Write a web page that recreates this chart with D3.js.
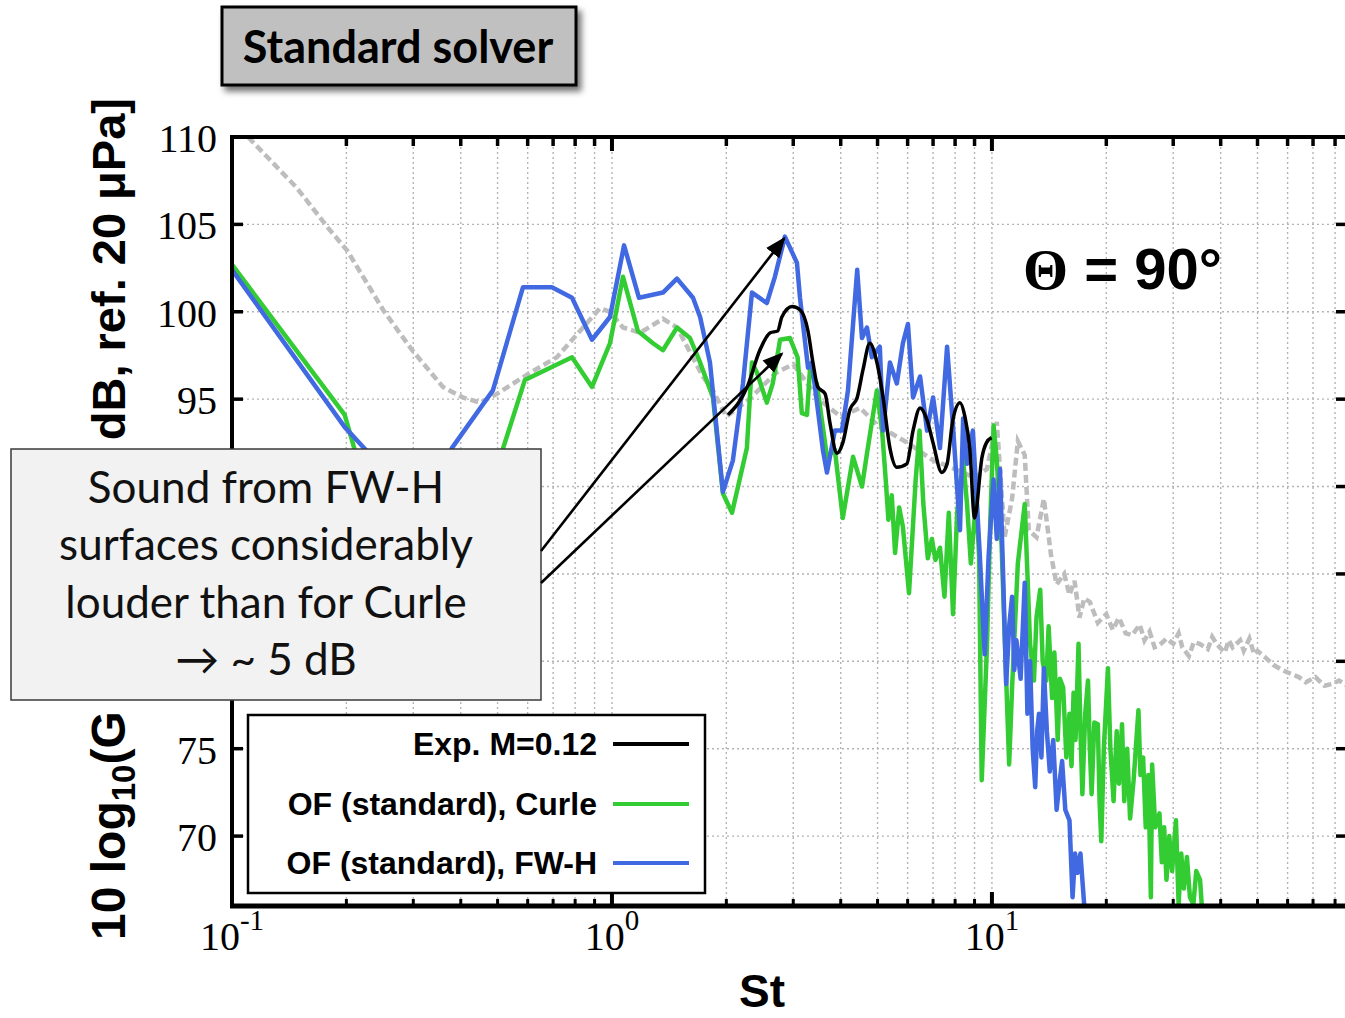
<!DOCTYPE html>
<html>
<head>
<meta charset="utf-8">
<script src="https://cdn.jsdelivr.net/npm/d3@7"></script>
<style>
body { margin: 0; background: #fff; }
</style>
</head>
<body>
<div id="chart"></div>
<script>
const width = 1345;
const height = 1018;

// Exp. M=0.12
const stExp = [2.02, 2.27, 2.45, 2.61, 2.73, 2.80, 2.98, 3.13, 3.28, 3.38, 3.48, 3.64, 3.75, 3.91, 4.05, 4.23, 4.42, 4.58, 4.77, 4.98, 5.17, 5.39, 5.62, 5.97, 6.20, 6.47, 6.75, 7.00, 7.38, 7.62, 7.89, 8.24, 8.49, 8.75, 9.00, 9.42, 9.67, 9.98];
const dbExp = [94.1, 95.7, 97.8, 98.8, 98.9, 99.7, 100.3, 100.1, 98.9, 97.1, 95.7, 95.3, 93.6, 91.9, 92.5, 94.4, 95.1, 96.7, 98.2, 97.1, 95.1, 92.2, 91.1, 91.3, 93.2, 94.5, 93.8, 92.5, 90.8, 91.3, 93.8, 94.8, 94.0, 92.1, 88.2, 91.7, 92.5, 92.8];

// OF (standard), Curle
const stCurle = [0.1, 0.198, 0.211, 0.26, 0.33, 0.42, 0.517, 0.590, 0.785, 0.886, 0.988, 1.069, 1.170, 1.282, 1.362, 1.483, 1.604, 1.706, 1.844, 1.959, 2.07, 2.265, 2.336, 2.41, 2.556, 2.65, 2.77, 2.94, 3.08, 3.16, 3.26, 3.32, 3.46, 3.68, 3.86, 4.05, 4.31, 4.55, 4.69, 4.98, 5.14, 5.25, 5.34, 5.45, 5.56, 5.7, 5.83, 6.05, 6.3, 6.45, 6.6, 6.78, 6.95, 7.1, 7.3, 7.5, 7.7, 7.9, 8.1, 8.4, 8.6, 8.8, 9.1, 9.25, 9.4, 9.7, 9.9, 10.1, 10.3, 10.6, 11.1, 11.3, 11.7, 12.2, 12.4, 12.6, 12.9, 13.1, 13.4, 13.6, 13.9, 14.1, 14.4, 14.6, 14.9, 15.1, 15.4, 15.7, 16.0, 16.2, 16.4, 16.6, 16.9, 17.1, 17.3, 17.6, 17.9, 18.1, 18.3, 18.6, 19.0, 19.2, 19.4, 19.7, 20.2, 20.5, 20.9, 21.3, 21.6, 22.0, 22.3, 22.7, 23.1, 23.6, 24.0, 24.3, 24.6, 25.0, 25.4, 25.8, 26.2, 26.4, 26.9, 27.6, 28.0, 28.4, 28.8, 29.3, 29.8, 30.5, 31.0, 31.5, 32.0, 32.6, 33.2, 33.9, 34.5, 35.3, 36.2];
const dbCurle = [102.7, 94.1, 92.0, 86.0, 83.0, 84.5, 92.2, 96.1, 97.4, 95.7, 98.2, 102.0, 98.9, 98.2, 97.8, 99.1, 98.5, 97.1, 95.1, 89.6, 88.5, 92.2, 97.1, 96.5, 94.8, 95.9, 98.4, 98.5, 97.4, 94.2, 94.1, 96.7, 95.9, 91.7, 92.1, 88.2, 91.7, 90.0, 91.9, 95.5, 93.2, 90.5, 88.1, 89.5, 86.2, 88.8, 87.7, 83.9, 90.4, 93.2, 89.0, 85.9, 87.0, 85.8, 86.5, 83.7, 88.5, 82.7, 88.5, 91.5, 89.0, 85.6, 89.4, 86.0, 73.2, 80.8, 88.0, 93.5, 91.5, 86.7, 74.1, 78.5, 85.6, 89.0, 85.0, 81.0, 78.9, 82.5, 84.1, 80.0, 78.9, 82.0, 77.9, 80.5, 75.5, 79.0, 78.5, 74.5, 77.0, 74.0, 78.2, 75.5, 81.0, 76.0, 72.4, 77.0, 78.9, 75.0, 72.4, 76.5, 76.4, 72.0, 69.7, 75.0, 79.6, 75.0, 72.0, 76.0, 73.0, 76.4, 72.0, 75.0, 71.0, 73.2, 75.5, 77.2, 73.5, 74.5, 70.5, 73.5, 66.5, 74.1, 70.5, 71.3, 68.5, 70.5, 67.5, 70.0, 68.0, 70.9, 66.1, 69.0, 67.0, 68.8, 66.5, 66.1, 68.0, 67.5, 64.0];

// OF (standard), FW-H
const stFwh = [0.1, 0.198, 0.227, 0.27, 0.32, 0.379, 0.486, 0.583, 0.695, 0.785, 0.886, 0.988, 1.076, 1.178, 1.362, 1.483, 1.634, 1.706, 1.811, 1.959, 2.081, 2.212, 2.336, 2.556, 2.684, 2.852, 3.068, 3.125, 3.281, 3.359, 3.59, 3.68, 3.86, 4.03, 4.18, 4.42, 4.55, 4.69, 4.83, 5.07, 5.17, 5.39, 5.62, 5.83, 6.01, 6.20, 6.47, 6.75, 7.00, 7.30, 7.62, 7.89, 8.24, 8.4, 8.6, 8.91, 9.29, 9.57, 9.8, 10.1, 10.3, 10.5, 10.7, 10.9, 11.1, 11.3, 11.45, 11.6, 11.9, 12.2, 12.4, 12.6, 12.8, 13.0, 13.15, 13.3, 13.5, 13.7, 13.95, 14.2, 14.5, 14.8, 15.05, 15.3, 15.6, 16.0, 16.3, 16.55, 16.8, 17.1, 17.5, 18.3];
const dbFwh = [102.4, 93.4, 92.0, 89.0, 88.5, 92.2, 95.5, 101.4, 101.4, 100.8, 98.4, 99.7, 103.8, 100.8, 101.1, 101.9, 100.8, 99.7, 97.1, 89.7, 91.5, 95.9, 101.1, 100.5, 102.0, 104.3, 102.8, 100.8, 96.8, 97.1, 92.1, 90.8, 93.2, 93.2, 95.5, 102.4, 98.5, 99.1, 97.4, 98.0, 93.2, 97.1, 95.9, 98.2, 99.3, 95.1, 96.3, 93.2, 95.1, 92.2, 98.0, 93.6, 87.5, 93.9, 91.3, 93.2, 86.1, 80.4, 86.0, 90.4, 87.0, 91.0, 85.0, 78.7, 82.0, 83.7, 79.5, 81.2, 79.0, 84.5, 77.0, 80.0, 75.0, 72.8, 76.0, 77.0, 74.5, 79.6, 76.0, 73.7, 75.5, 71.5, 73.0, 74.3, 71.5, 70.9, 66.5, 69.0, 67.9, 69.0, 66.0, 64.5];

// unlabeled grey dashed reference
const stGrey = [0.1, 0.1136, 0.148, 0.179, 0.201, 0.250, 0.298, 0.359, 0.405, 0.45, 0.498, 0.608, 0.716, 0.824, 0.929, 0.988, 1.069, 1.186, 1.362, 1.483, 1.734, 1.844, 2.0, 2.3, 2.7, 3.0, 3.5, 4.0, 4.5, 5.0, 6.0, 7.0, 8.0, 9.0, 9.7, 10.3, 10.8, 11.3, 11.7, 12.2, 12.5, 13.1, 13.7, 14.3, 14.8, 15.5, 16.0, 16.5, 17.0, 17.5, 18.1, 19.0, 20.0, 20.8, 21.6, 22.5, 23.4, 24.5, 25.2, 26.0, 26.8, 27.5, 28.8, 30.0, 31.0, 31.7, 33.0, 34.0, 35.2, 37.0, 38.0, 39.0, 41.0, 42.0, 43.0, 45.0, 46.0, 47.6, 49.0, 50.0, 52.6, 55.0, 58.1, 61.0, 64.2, 67.0, 71.0, 75.0, 78.5, 82.0, 86.0];
const dbGrey = [111.0, 109.7, 107.1, 104.8, 103.5, 100.1, 97.8, 95.7, 95.1, 94.8, 95.3, 96.5, 97.4, 98.9, 100.2, 100.0, 99.1, 98.8, 99.6, 99.1, 96.3, 95.5, 94.0, 95.0, 96.5, 97.0, 95.0, 94.0, 94.5, 93.5, 92.5, 91.5, 91.0, 90.5, 91.0, 93.7, 87.1, 89.3, 92.6, 91.8, 87.5, 87.1, 89.3, 86.1, 84.4, 85.0, 83.8, 84.6, 82.5, 83.6, 83.4, 82.2, 82.7, 81.8, 82.5, 81.6, 81.5, 82.1, 81.2, 81.7, 80.8, 80.9, 81.3, 81.0, 81.6, 80.8, 80.3, 81.1, 81.0, 80.7, 81.4, 81.0, 80.5, 81.2, 80.8, 81.2, 80.6, 81.3, 80.4, 80.6, 80.2, 79.8, 79.5, 79.3, 79.1, 78.8, 79.1, 78.6, 78.7, 78.9, 78.6];

const yTicks = [70, 75, 80, 85, 90, 95, 100, 105, 110];
const xDecades = [0.1, 1, 10];
const xExponents = ["-1", "0", "1"];
const legendLabels = ["Exp. M=0.12", "OF (standard), Curle", "OF (standard), FW-H"];
const legendColors = ["#000000", "#33cc33", "#4169e1"];
const noteLines = ["Sound from FW-H", "surfaces considerably", "louder than for Curle", "\u2192 ~ 5 dB"];

const svg = d3.select("#chart").append("svg")
    .attr("width", width)
    .attr("height", height);

const x = d3.scaleLog().domain([0.1, 86]).range([232, 1347]);
const y = d3.scaleLinear().domain([66, 110]).range([906, 137]);

// note box geometry (it hides part of the y axis, as in the original)
const note = { x: 11, y: 449, w: 530, h: 251 };

const defs = svg.append("defs");
defs.append("clipPath").attr("id", "plot")
    .append("rect")
    .attr("x", x.range()[0]).attr("y", y.range()[1])
    .attr("width", x.range()[1] - x.range()[0])
    .attr("height", y.range()[0] - y.range()[1]);
const shadow = defs.append("filter").attr("id", "shadow")
    .attr("x", "-10%").attr("y", "-20%").attr("width", "130%").attr("height", "160%");
shadow.append("feDropShadow")
    .attr("dx", 4).attr("dy", 5).attr("stdDeviation", 3)
    .attr("flood-color", "#000").attr("flood-opacity", 0.55);

const xTicks = x.ticks();
const isDecade = v => Math.abs(Math.log10(v) - Math.round(Math.log10(v))) < 1e-6;

// grid
const grid = svg.append("g")
    .attr("stroke", "#b4b4b4")
    .attr("stroke-width", 1.4)
    .attr("stroke-dasharray", "2,3");
grid.selectAll(".vg")
    .data(xTicks.filter(v => v > 0.1))
    .enter().append("line")
    .attr("x1", d => x(d)).attr("x2", d => x(d))
    .attr("y1", y.range()[1]).attr("y2", y.range()[0]);
grid.selectAll(".hg")
    .data(yTicks.filter(v => v < 110))
    .enter().append("line")
    .attr("x1", x.range()[0]).attr("x2", x.range()[1])
    .attr("y1", d => y(d)).attr("y2", d => y(d));

// series
const line = d3.line().x(d => x(d[0])).y(d => y(d[1]));
const smooth = d3.line().x(d => x(d[0])).y(d => y(d[1])).curve(d3.curveMonotoneX);
const plot = svg.append("g").attr("clip-path", "url(#plot)");

plot.append("path")
    .datum(d3.zip(stGrey, dbGrey))
    .attr("d", line)
    .style("fill", "none")
    .style("stroke", "#bdbdbd")
    .style("stroke-width", 4.5)
    .style("stroke-dasharray", "8,4");

plot.append("path")
    .datum(d3.zip(stCurle, dbCurle))
    .attr("d", line)
    .style("fill", "none")
    .style("stroke", legendColors[1])
    .style("stroke-width", 4.5)
    .style("stroke-linejoin", "round");

plot.append("path")
    .datum(d3.zip(stFwh, dbFwh))
    .attr("d", line)
    .style("fill", "none")
    .style("stroke", legendColors[2])
    .style("stroke-width", 4.5)
    .style("stroke-linejoin", "round");

plot.append("path")
    .datum(d3.zip(stExp, dbExp))
    .attr("d", smooth)
    .style("fill", "none")
    .style("stroke", legendColors[0])
    .style("stroke-width", 3.5)
    .style("stroke-linejoin", "round");

// frame and ticks
const frame = svg.append("g").attr("stroke", "#000");
frame.append("line").attr("x1", 232).attr("x2", 1347).attr("y1", 137).attr("y2", 137).attr("stroke-width", 4);
frame.append("line").attr("x1", 230).attr("x2", 1347).attr("y1", 906).attr("y2", 906).attr("stroke-width", 5);
frame.append("line").attr("x1", 232).attr("x2", 232).attr("y1", 135).attr("y2", 908).attr("stroke-width", 4);
frame.append("line").attr("x1", 1347).attr("x2", 1347).attr("y1", 135).attr("y2", 908).attr("stroke-width", 4);

frame.selectAll(".yt")
    .data(yTicks.filter(v => v < 110))
    .enter().append("line")
    .attr("x1", 232).attr("x2", 243)
    .attr("y1", d => y(d)).attr("y2", d => y(d))
    .attr("stroke-width", 3.5);
frame.selectAll(".yt2")
    .data(yTicks.filter(v => v < 110))
    .enter().append("line")
    .attr("x1", 1336).attr("x2", 1347)
    .attr("y1", d => y(d)).attr("y2", d => y(d))
    .attr("stroke-width", 3.5);
frame.selectAll(".xb")
    .data(xTicks.filter(v => v > 0.1))
    .enter().append("line")
    .attr("x1", d => x(d)).attr("x2", d => x(d))
    .attr("y1", 906).attr("y2", d => isDecade(d) ? 892 : 899)
    .attr("stroke-width", d => isDecade(d) ? 4 : 3);
frame.selectAll(".xt")
    .data(xTicks.filter(v => v > 0.1))
    .enter().append("line")
    .attr("x1", d => x(d)).attr("x2", d => x(d))
    .attr("y1", 137).attr("y2", d => isDecade(d) ? 151 : 146)
    .attr("stroke-width", d => isDecade(d) ? 4 : 3.5);

// tick labels (those under the note box are not visible in the original)
svg.selectAll(".ylab")
    .data(yTicks.filter(v => y(v) < note.y || y(v) > note.y + note.h))
    .enter().append("text")
    .attr("x", 217)
    .attr("y", d => y(d) + 15)
    .attr("text-anchor", "end")
    .style("font-family", "'Liberation Serif', 'Times New Roman', serif")
    .style("font-size", "40px")
    .text(d => d);

const xl = svg.selectAll(".xlab")
    .data(xDecades)
    .enter().append("text")
    .attr("x", d => x(d))
    .attr("y", 950)
    .attr("text-anchor", "middle")
    .style("font-family", "'Liberation Serif', 'Times New Roman', serif")
    .style("font-size", "40px");
xl.append("tspan").text("10");
xl.append("tspan")
    .attr("dy", -20)
    .style("font-size", "29px")
    .text((d, i) => xExponents[i]);

// axis titles
svg.append("text")
    .attr("x", 762).attr("y", 1007)
    .attr("text-anchor", "middle")
    .style("font-family", "'Liberation Sans', Arial, sans-serif")
    .style("font-weight", "bold")
    .style("font-size", "46px")
    .text("St");

// the middle of the y title is hidden behind the note box in the original
const yt = svg.append("text")
    .attr("transform", "translate(125,940) rotate(-90)")
    .style("font-family", "'Liberation Sans', Arial, sans-serif")
    .style("font-weight", "bold")
    .style("font-size", "48px");
yt.append("tspan").text("10 log");
yt.append("tspan").attr("dy", 10).style("font-size", "33px").text("10");
yt.append("tspan").attr("dy", -10).text("(G");
svg.append("text")
    .attr("transform", "translate(125,98) rotate(-90)")
    .attr("text-anchor", "end")
    .style("font-family", "'Liberation Sans', Arial, sans-serif")
    .style("font-weight", "bold")
    .style("font-size", "47px")
    .text("dB, ref. 20 \u03bcPa]");

// theta label
const th = svg.append("text")
    .attr("x", 1023).attr("y", 289)
    .style("font-family", "'Liberation Sans', Arial, sans-serif")
    .style("font-weight", "bold")
    .style("font-size", "58px");
th.append("tspan")
    .style("font-family", "'Liberation Serif', 'Times New Roman', serif")
    .style("font-size", "58px")
    .text("\u0398");
th.append("tspan").text(" = 90\u00b0");

// legend
const legend = svg.append("g");
legend.append("rect")
    .attr("x", 248).attr("y", 715)
    .attr("width", 457).attr("height", 178)
    .style("fill", "#fff")
    .style("stroke", "#000")
    .style("stroke-width", 2.5);
const rowsY = [744, 804, 863];
legendLabels.forEach((lab, i) => {
    legend.append("text")
        .attr("x", 597).attr("y", rowsY[i] + 11)
        .attr("text-anchor", "end")
        .style("font-family", "'Liberation Sans', Arial, sans-serif")
        .style("font-weight", "bold")
        .style("font-size", "32px")
        .text(lab);
    legend.append("line")
        .attr("x1", 613).attr("x2", 689)
        .attr("y1", rowsY[i]).attr("y2", rowsY[i])
        .style("stroke", legendColors[i])
        .style("stroke-width", 4);
});

// title box
svg.append("rect")
    .attr("x", 222).attr("y", 7)
    .attr("width", 354).attr("height", 78)
    .attr("filter", "url(#shadow)")
    .style("fill", "#c0c0c0")
    .style("stroke", "#000")
    .style("stroke-width", 3);
svg.append("text")
    .attr("x", 398).attr("y", 63)
    .attr("text-anchor", "middle")
    .style("font-family", "Lato, 'Open Sans', sans-serif")
    .style("font-weight", "bold")
    .style("font-size", "45px")
    .text("Standard solver");

// annotation box and arrows
svg.append("rect")
    .attr("x", note.x).attr("y", note.y)
    .attr("width", note.w).attr("height", note.h)
    .style("fill", "#f2f2f2")
    .style("stroke", "#3a3a3a")
    .style("stroke-width", 1.5);
svg.selectAll(".note")
    .data(noteLines)
    .enter().append("text")
    .attr("x", 266)
    .attr("y", (d, i) => 503 + i * 57.3)
    .attr("text-anchor", "middle")
    .style("font-family", "Lato, 'Open Sans', sans-serif")
    .style("font-size", "44px")
    .style("fill", "#111")
    .text(d => d);

defs.append("marker").attr("id", "head")
    .attr("viewBox", "0 0 10 10")
    .attr("refX", 9).attr("refY", 5)
    .attr("markerWidth", 8).attr("markerHeight", 8)
    .attr("markerUnits", "strokeWidth")
    .attr("orient", "auto")
    .append("path").attr("d", "M0,1 L10,5 L0,9 Z").attr("fill", "#000");

const arrows = [
    { from: [note.x + note.w, 551], to: [x(2.84), y(104.2)] },
    { from: [note.x + note.w, 583], to: [x(2.80), y(97.6)] }
];
svg.selectAll(".arrow")
    .data(arrows)
    .enter().append("line")
    .attr("x1", d => d.from[0]).attr("y1", d => d.from[1])
    .attr("x2", d => d.to[0]).attr("y2", d => d.to[1])
    .attr("marker-end", "url(#head)")
    .style("stroke", "#000")
    .style("stroke-width", 2.6);
</script>
</body>
</html>
